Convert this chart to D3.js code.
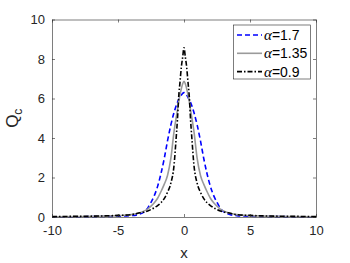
<!DOCTYPE html>
<html><head><meta charset="utf-8">
<script src="https://cdn.jsdelivr.net/npm/d3@7"></script>
<style>body{margin:0;background:#fff}svg{display:block}</style>
</head><body><svg id="c" width="350" height="263"></svg>
<script>
const xHalf = [0,0.1,0.2,0.3,0.4,0.5,0.6,0.75,1,1.25,1.5,1.75,2,2.25,2.5,2.75,3,3.5,4,5,6,8,10];
const blueHalf = [6.3,6.26,6.17,6.06,5.94,5.8,5.62,5.3,4.65,3.85,2.95,2.18,1.55,1.08,0.74,0.45,0.27,0.12,0.07,0.04,0.025,0.015,0.01];
const grayHalf = [6.87,6.75,6.5,6.2,5.85,5.4,5.0,4.35,2.95,2.1,1.65,1.28,0.95,0.72,0.55,0.4,0.31,0.19,0.12,0.07,0.045,0.025,0.015];
const blackHalf = [8.57,8.1,7.6,6.85,6.1,4.9,3.95,2.65,1.7,1.25,0.93,0.72,0.58,0.47,0.38,0.31,0.26,0.19,0.12,0.08,0.055,0.035,0.02];
const labels = ["1.7","1.35","0.9"];
const xTicks = [-10,-5,0,5,10];
const yTicks = [0,2,4,6,8,10];

function mirror(h){ return h.slice(1).reverse().concat(h); }
const xs = xHalf.slice(1).reverse().map(v=>-v).concat(xHalf);
const series = [
  {vals: mirror(blueHalf), color:"#0000ff", dash:"5,3", lab:labels[0]},
  {vals: mirror(grayHalf), color:"#9a9a9a", dash:null, lab:labels[1]},
  {vals: mirror(blackHalf), color:"#000000", dash:"5,2,1.5,2", lab:labels[2]}
];

const svg = d3.select("#c");
const L=52,R=316,T=19.5,B=217;
const x = d3.scaleLinear().domain([-10,10]).range([L,R]);
const y = d3.scaleLinear().domain([0,10]).range([B,T]);
const axCol="#262626", font="'Liberation Sans', Arial, sans-serif";
const fmt = d => String(d);

const line = d3.line().x((d,i)=>x(xs[i])).y(d=>y(d)).curve(d3.curveMonotoneX);
series.forEach(s=>{
  svg.append("path").attr("d", line(s.vals)).attr("fill","none")
    .attr("stroke", s.color).attr("stroke-width",1.6)
    .attr("stroke-dasharray", s.dash);
});

// axes
const gx = svg.append("g").attr("transform",`translate(0,${B})`)
  .call(d3.axisBottom(x).tickValues(xTicks).tickFormat(fmt).tickSizeInner(-3).tickSizeOuter(0).tickPadding(9));
const gy = svg.append("g").attr("transform",`translate(${L},0)`)
  .call(d3.axisLeft(y).tickValues(yTicks).tickFormat(fmt).tickSizeInner(-3).tickSizeOuter(0).tickPadding(7));
const gxt = svg.append("g").attr("transform",`translate(0,${T})`)
  .call(d3.axisTop(x).tickValues(xTicks).tickSizeInner(-3).tickSizeOuter(0).tickFormat(""));
const gyr = svg.append("g").attr("transform",`translate(${R},0)`)
  .call(d3.axisRight(y).tickValues(yTicks).tickSizeInner(-3).tickSizeOuter(0).tickFormat(""));
[gx,gy,gxt,gyr].forEach(g=>{
  g.select(".domain").attr("stroke",axCol).attr("stroke-width",0.6);
  g.selectAll(".tick line").attr("stroke",axCol).attr("stroke-width",0.6);
  g.selectAll("text").attr("fill",axCol).style("font-family",font).style("font-size","13px");
});
gx.selectAll("text").attr("dy","0.71em");

// axis labels
svg.append("text").attr("x",x(0)).attr("y",258).attr("text-anchor","middle")
  .attr("fill",axCol).style("font-family",font).style("font-size","15px").text("x");
const yl = svg.append("text").attr("transform",`translate(18,${y(5)}) rotate(-90)`)
  .attr("text-anchor","middle").attr("fill",axCol).style("font-family",font).style("font-size","17px");
yl.append("tspan").text("Q");
yl.append("tspan").attr("dy",4).style("font-size","12px").text("c");

// legend
const lg = svg.append("g");
lg.append("rect").attr("x",233.5).attr("y",25).attr("width",77).attr("height",54)
  .attr("fill","#fff").attr("stroke",axCol).attr("stroke-width",0.6);
series.forEach((s,i)=>{
  const yy = 35 + i*18.3;
  lg.append("line").attr("x1",237).attr("x2",262).attr("y1",yy).attr("y2",yy)
    .attr("stroke",s.color).attr("stroke-width",1.6).attr("stroke-dasharray",s.dash);
  const t = lg.append("text").attr("x",264).attr("y",yy+5).attr("fill","#000")
    .style("font-family",font).style("font-size","14px");
  t.append("tspan").style("font-family","'Liberation Serif','Times New Roman',serif").style("font-style","italic").style("font-size","15px").text("α");
  t.append("tspan").text("=" + s.lab);
});
</script></body></html>
